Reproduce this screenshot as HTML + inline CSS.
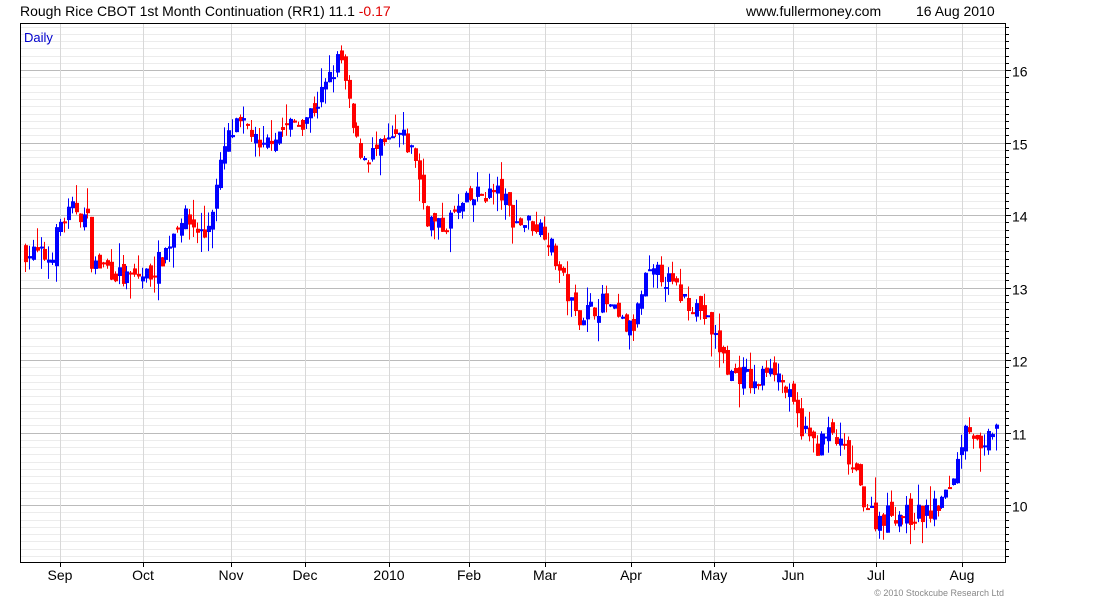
<!DOCTYPE html>
<html><head><meta charset="utf-8"><style>
body{margin:0;background:#fff;width:1100px;height:600px;overflow:hidden;font-family:"Liberation Sans",sans-serif}
</style></head><body>
<svg id="s" width="1100" height="600" xmlns="http://www.w3.org/2000/svg" font-family="Liberation Sans, sans-serif">
<text x="20" y="16" font-size="14" fill="#000">Rough Rice CBOT 1st Month Continuation (RR1) 11.1 <tspan fill="#e00000">-0.17</tspan></text>
<text x="746" y="16" font-size="14" fill="#000">www.fullermoney.com</text>
<text x="916" y="16" font-size="14" fill="#000">16 Aug 2010</text>
<g id="grid"></g>
<g id="c"></g>
<rect x="20.5" y="23.5" width="985" height="539" fill="none" stroke="#000"/>
<text x="24" y="42" font-size="13" fill="#0000cc">Daily</text>
<g id="ax" font-size="14" fill="#000"></g>
<text x="1004" y="596" font-size="9" fill="#888" text-anchor="end">© 2010 Stockcube Research Ltd</text>
</svg>
<script>
var NS="http://www.w3.org/2000/svg";
function el(p,t,a){var e=document.createElementNS(NS,t);for(var k in a)e.setAttribute(k,a[k]);p.appendChild(e);return e;}
function Y(v){return 505-(v-10)*72.5;}
var g=document.getElementById('grid'),ax=document.getElementById('ax'),c=document.getElementById('c');
for(var v=9.3;v<=16.7;v+=0.1){var y=Math.round(Y(v))+0.5;if(y<24||y>562)continue;
 var maj=Math.abs(v-Math.round(v))<0.01;
 el(g,'line',{x1:21,x2:1005,y1:y,y2:y,stroke:maj?'#bbbbbb':'#ececec','stroke-width':1});
 el(ax,'line',{x1:1006,x2:maj?1011:1009,y1:y,y2:y,stroke:'#000'});
 if(maj){var t=el(ax,'text',{x:1012,y:y+6});t.textContent=Math.round(v);}
}
var months=[["Sep",60],["Oct",143],["Nov",231],["Dec",305],["2010",389],["Feb",469],["Mar",545],["Apr",631],["May",714],["Jun",793],["Jul",876],["Aug",962]];
months.forEach(function(m){el(g,'line',{x1:m[1]+.5,x2:m[1]+.5,y1:24,y2:562,stroke:'#d8d8d8'});
 el(ax,'line',{x1:m[1]+.5,x2:m[1]+.5,y1:562,y2:567,stroke:'#000'});
 var t=el(ax,'text',{x:m[1],y:580,'text-anchor':'middle'});t.textContent=m[0];});
var W=[[25,13.5],[50,13.4],[60,13.9],[75,14.1],[88,13.9],[92,13.3],[105,13.3],[125,13.1],[150,13.2],[165,13.5],[180,14.0],[205,13.7],[215,14.3],[225,15.0],[235,15.2],[250,15.2],[260,14.8],[270,15.1],[300,15.3],[315,15.5],[330,15.9],[340,16.2],[347,15.6],[355,15.0],[365,14.8],[380,14.9],[400,15.1],[415,14.8],[425,14.0],[440,13.8],[460,14.1],[480,14.3],[500,14.3],[515,13.9],[530,13.9],[545,13.8],[560,13.2],[575,12.6],[590,12.7],[605,12.8],[620,12.5],[632,12.4],[645,13.1],[660,13.2],[680,12.9],[700,12.7],[715,12.3],[730,11.8],[745,11.8],[755,11.6],[770,12.0],[785,11.6],[800,11.1],[815,10.8],[830,11.0],[845,10.7],[860,10.2],[875,9.8],[890,9.9],[910,9.85],[930,9.9],[945,10.1],[957,10.6],[965,11.2],[972,11.0],[982,10.6],[990,11.0],[998,11.15]];
function interp(x){for(var i=0;i<W.length-1;i++){if(x<=W[i+1][0]){var a=W[i],b=W[i+1],t=(x-a[0])/(b[0]-a[0]);return a[1]+t*(b[1]-a[1]);}}return W[W.length-1][1];}
var seed=7;function rnd(){seed=(seed*16807)%2147483647;return seed/2147483647;}
var prev=interp(25);
for(var x=25;x<=998;x+=3.9){
 var cl=interp(x)+(rnd()-0.5)*0.3;var op=prev+(rnd()-0.5)*0.2;
 var hi=Math.max(op,cl)+rnd()*rnd()*0.35,lo=Math.min(op,cl)-rnd()*rnd()*0.35;
 var col=cl>=op?'#0000ff':'#ff0000';var xi=Math.round(x);
 el(c,'line',{x1:xi+.5,x2:xi+.5,y1:Y(hi),y2:Y(lo),stroke:col,'stroke-width':1});
 var y1=Y(Math.max(op,cl)),h=Math.max(2,Y(Math.min(op,cl))-y1);
 el(c,'rect',{x:xi-1,y:y1,width:4,height:h,fill:col});
 prev=cl;
}
</script>
</body></html>
